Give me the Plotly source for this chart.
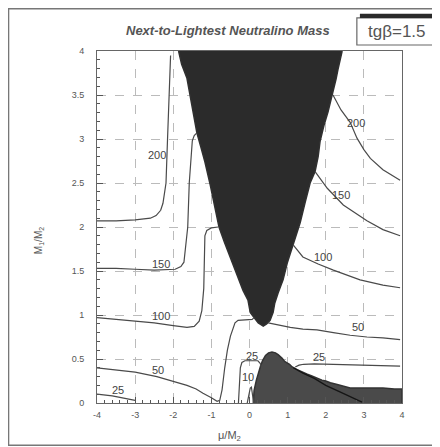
import plotly.graph_objects as go

# ---------------- data ----------------
# excluded region (upper V)
v_x = [-1.86, -1.78, -1.64, -1.56, -1.5, -1.38, -1.27, -1.17, -1.03, -0.94, -0.85, -0.8, -0.66, -0.51,
       -0.38, -0.25, -0.17, -0.04, 0.02, 0.07, 0.16, 0.23, 0.3, 0.36, 0.45, 0.54, 0.62, 0.66, 0.75,
       0.88, 0.99, 1.14, 1.33, 1.46, 1.59, 1.72, 1.8, 1.85, 1.95, 2.06, 2.19, 2.27, 2.33, 2.43]
v_y = [4.0, 3.85, 3.69, 3.5, 3.35, 3.07, 2.9, 2.74, 2.48, 2.3, 2.14, 2.0, 1.83, 1.66,
       1.5, 1.36, 1.28, 1.17, 1.03, 1.0, 0.95, 0.91, 0.89, 0.875, 0.9, 0.94, 1.03, 1.13, 1.25,
       1.4, 1.59, 1.8, 2.05, 2.28, 2.5, 2.63, 2.8, 2.97, 3.15, 3.31, 3.53, 3.68, 3.81, 4.0]

# excluded region (bottom right)
b_x = [0.1, 0.12, 0.18, 0.24, 0.29, 0.34, 0.42, 0.5, 0.59, 0.68, 0.75, 0.85, 0.93, 1.05, 1.12,
       1.25, 1.38, 1.5, 1.62, 1.77, 1.9, 2.0, 2.12, 2.3, 2.45, 2.64, 2.9, 3.2, 3.5, 3.8, 4.0, 4.0]
b_y = [0.0, 0.14, 0.26, 0.36, 0.42, 0.48, 0.54, 0.57, 0.58, 0.57, 0.55, 0.51, 0.47, 0.44, 0.41,
       0.38, 0.35, 0.33, 0.31, 0.28, 0.26, 0.25, 0.23, 0.21, 0.19, 0.17, 0.17, 0.17, 0.17, 0.16, 0.16, 0.0]

# contour lines
c200a_x = [-4.0, -3.5, -3.0, -2.6, -2.45, -2.33, -2.27, -2.22, -2.19, -2.15, -2.11, -2.07]
c200a_y = [2.07, 2.07, 2.08, 2.1, 2.13, 2.19, 2.27, 2.4, 2.5, 3.0, 3.5, 3.95]
c200b_x = [2.19, 2.4, 2.64, 2.82, 3.0, 3.17, 3.5, 3.95]
c200b_y = [3.5, 3.33, 3.19, 3.01, 2.88, 2.78, 2.65, 2.53]
c150a_x = [-4.0, -3.5, -3.0, -2.5, -1.95, -1.8, -1.72, -1.69, -1.62, -1.58, -1.53, -1.5, -1.45, -1.38]
c150a_y = [1.53, 1.53, 1.52, 1.51, 1.52, 1.55, 1.6, 1.7, 2.0, 2.5, 2.85, 2.98, 3.04, 3.07]
c150b_x = [1.72, 2.04, 2.46, 3.08, 3.5, 3.95]
c150b_y = [2.63, 2.44, 2.25, 2.07, 1.97, 1.9]
c100a_x = [-4.0, -3.5, -3.0, -2.5, -2.0, -1.64, -1.45, -1.32, -1.25, -1.2, -1.17, -1.12, -1.0, -0.82]
c100a_y = [0.97, 0.95, 0.93, 0.91, 0.88, 0.86, 0.87, 0.93, 1.05, 1.3, 1.9, 1.96, 1.99, 2.0]
c100b_x = [1.14, 1.4, 1.8, 2.2, 2.9, 3.5, 3.95]
c100b_y = [1.8, 1.66, 1.58, 1.51, 1.4, 1.34, 1.31]
c50a_x = [-4.0, -3.5, -3.0, -2.43, -2.0, -1.64, -1.4, -1.22, -1.0, -0.85, -0.78, -0.72, -0.65,
          -0.58, -0.5, -0.42, -0.38, -0.3, -0.1, 0.07, 0.12]
c50a_y = [0.4, 0.375, 0.35, 0.3, 0.25, 0.2, 0.16, 0.11, 0.06, 0.02, 0.03, 0.15, 0.4,
          0.6, 0.76, 0.86, 0.91, 0.94, 0.95, 0.95, 0.97]
c50b_x = [0.49, 0.7, 1.07, 1.4, 1.77, 2.2, 2.64, 3.08, 3.5, 3.95]
c50b_y = [0.91, 0.89, 0.86, 0.84, 0.83, 0.8, 0.77, 0.75, 0.74, 0.72]
c25a_x = [-4.0, -3.6, -3.3, -3.0]
c25a_y = [0.1, 0.08, 0.055, 0.03]
c25b_x = [-0.29, -0.27, -0.24, -0.2, -0.12, 0.05, 0.22, 0.28, 0.31]
c25b_y = [0.0, 0.2, 0.4, 0.46, 0.48, 0.48, 0.48, 0.45, 0.41]
c25c_x = [1.2, 1.3, 1.42, 1.7, 2.2, 3.0, 3.5, 3.95]
c25c_y = [0.41, 0.43, 0.44, 0.445, 0.44, 0.43, 0.425, 0.42]
c10a_x = [-0.06, -0.02, 0.02, 0.05, 0.08, 0.11]
c10a_y = [0.0, 0.1, 0.17, 0.18, 0.1, 0.0]
c10b_x = [1.15, 1.4, 1.7, 2.0, 2.4, 2.8, 2.95]
c10b_y = [0.4, 0.34, 0.28, 0.2, 0.12, 0.04, 0.01]

label_text = ["200", "200", "150", "150", "100", "100", "50", "50", "25", "25", "25", "10"]
label_x = [-2.43, 2.8, -2.32, 2.4, -2.32, 1.93, -2.4, 2.85, -3.45, 0.07, 1.83, -0.03]
label_y = [2.82, 3.18, 1.58, 2.36, 0.99, 1.66, 0.375, 0.86, 0.15, 0.53, 0.52, 0.3]

x_ticks = [-4, -3, -2, -1, 0, 1, 2, 3, 4]
x_tick_labels = ["-4", "-3", "-2", "-1", "0", "1", "2", "3", "4"]
y_ticks = [0, 0.5, 1, 1.5, 2, 2.5, 3, 3.5, 4]
y_tick_labels = ["0", "0.5", "1", "1.5", "2", "2.5", "3", "3.5", "4"]

FONT = "Liberation Sans, Arial"

# ---------------- figure ----------------
fig = go.Figure()

fig.add_trace(go.Scatter(x=b_x, y=b_y, mode="lines", fill="toself", fillcolor="#4a4a4a",
                         line=dict(color="#333333", width=1.5), hoverinfo="skip"))
fig.add_trace(go.Scatter(x=v_x, y=v_y, mode="lines", fill="toself", fillcolor="#2b2b2b",
                         line=dict(color="#303030", width=1.5), hoverinfo="skip"))

line_style = dict(color="#4a4a4a", width=1.2)
for cx, cy in [(c200a_x, c200a_y), (c200b_x, c200b_y), (c150a_x, c150a_y), (c150b_x, c150b_y),
               (c100a_x, c100a_y), (c100b_x, c100b_y), (c50a_x, c50a_y), (c50b_x, c50b_y),
               (c25a_x, c25a_y), (c25b_x, c25b_y), (c25c_x, c25c_y), (c10a_x, c10a_y)]:
    fig.add_trace(go.Scatter(x=cx, y=cy, mode="lines", line=line_style, hoverinfo="skip"))
fig.add_trace(go.Scatter(x=c10b_x, y=c10b_y, mode="lines", line=dict(color="#151515", width=1.3),
                         hoverinfo="skip"))

annotations = []
for t, lx, ly in zip(label_text, label_x, label_y):
    annotations.append(dict(text=t, x=lx, y=ly, xref="x", yref="y", showarrow=False,
                            xanchor="center", yanchor="middle",
                            font=dict(family=FONT, size=11, color="#444444")))

axis_common = dict(ticks="inside", ticklen=6, tickcolor="#555", showline=True, mirror=True,
                   linecolor="#666", linewidth=1, showgrid=True, gridcolor="#bbbbbb",
                   griddash="dash", gridwidth=1, zeroline=False,
                   tickfont=dict(family=FONT, size=9, color="#555555"))

fig.update_xaxes(range=[-4, 4], tickvals=x_ticks, ticktext=x_tick_labels, ticklabelstandoff=3,
                 minor=dict(dtick=0.2, ticks="inside", ticklen=3, tickcolor="#555", showgrid=False),
                 **axis_common)
fig.update_yaxes(range=[0, 4], tickvals=y_ticks, ticktext=y_tick_labels, ticklabelstandoff=10,
                 minor=dict(dtick=0.1, ticks="inside", ticklen=3, tickcolor="#555", showgrid=False),
                 **axis_common)

annotations += [
    dict(text="<b><i>Next-to-Lightest Neutralino Mass</i></b>", xref="paper", yref="paper",
         x=0.43, y=1.057, showarrow=False, xanchor="center", yanchor="middle",
         font=dict(family=FONT, size=13, color="#555555")),
    dict(text="tgβ=1.5", xref="paper", yref="paper", x=0.985, y=1.055, showarrow=False,
         xanchor="center", yanchor="middle",
         font=dict(family=FONT, size=17, color="#555555")),
    dict(text="μ/M<sub>2</sub>", xref="paper", yref="paper", x=0.436, y=-0.095, showarrow=False,
         xanchor="center", yanchor="middle",
         font=dict(family=FONT, size=11, color="#555555")),
    dict(text="M<sub>1</sub>/M<sub>2</sub>", xref="paper", yref="paper", x=-0.19, y=0.46,
         showarrow=False, textangle=-90, xanchor="center", yanchor="middle",
         font=dict(family=FONT, size=10, color="#555555")),
]

# the page body has an 8 px margin, so the figure is 8 px smaller and all margins shifted
fig.update_layout(
    width=432, height=439,
    margin=dict(l=89, r=38, t=43, b=44),
    paper_bgcolor="white", plot_bgcolor="white",
    showlegend=False,
    shapes=[
        dict(type="rect", xref="paper", yref="paper", x0=-0.29, x1=1.14, y0=-0.12, y1=1.12,
             line=dict(color="#777", width=1.5), layer="below"),
        dict(type="rect", xref="paper", yref="paper", x0=0.852, x1=1.14, y0=1.017, y1=1.094,
             line=dict(color="#666", width=1.2), fillcolor="white"),
        dict(type="rect", xref="paper", yref="paper", x0=0.862, x1=1.14, y0=1.094, y1=1.106,
             line=dict(width=0), fillcolor="#2a2a2a"),
    ],
    annotations=annotations,
)

fig.write_html("out.html")
